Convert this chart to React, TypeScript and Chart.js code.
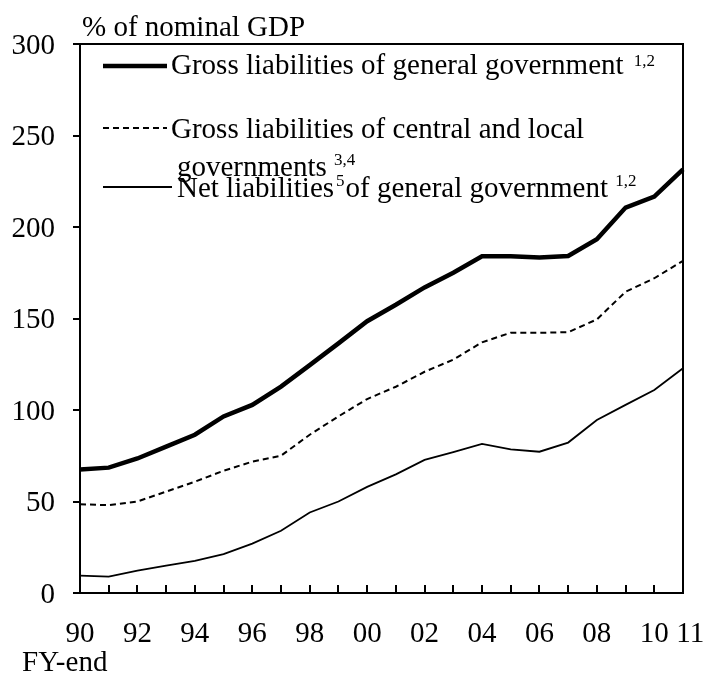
import React, { useEffect, useRef } from 'react';
import { Chart, registerables } from 'chart.js';

Chart.register(...registerables);

// ---- data ----
const YEARS = ['90', '91', '92', '93', '94', '95', '96', '97', '98', '99', '00', '01', '02', '03', '04', '05', '06', '07', '08', '09', '10', '11'];
const TICK_LABELS = ['90', '', '92', '', '94', '', '96', '', '98', '', '00', '', '02', '', '04', '', '06', '', '08', '', '10', '\u200211'];

const GROSS_GENERAL = [67.5, 68.5, 73.5, 80, 86.5, 96.5, 102.8, 112.8, 124.5, 136.4, 148.5, 157.5, 167, 175, 184, 184, 183.4, 184.2, 193.3, 210.6, 216.6, 231.5];
const GROSS_CENTRAL_LOCAL = [48.5, 48, 50, 55.4, 60.8, 66.8, 71.8, 75, 86.5, 96.5, 106, 112.7, 120.9, 127.5, 137, 142.2, 142.2, 142.5, 149.5, 164.6, 172, 181.5];
const NET_GENERAL = [9.5, 9, 12.2, 15, 17.5, 21.3, 27, 34, 44, 50, 58, 64.8, 72.7, 77, 81.5, 78.5, 77.2, 82.2, 94.5, 102.8, 110.9, 122.8];

const Y_MIN = 0;
const Y_MAX = 300;
const Y_STEP = 50;

const Y_TITLE = '% of nominal GDP';
const X_TITLE = 'FY-end';

const LEGEND_1 = ['Gross liabilities of general government', '1,2'];
const LEGEND_2 = ['Gross liabilities of central and local', 'governments', '3,4'];
const LEGEND_3 = ['Net liabilities', '5', 'of general government', '1,2'];

const FONT = "'Liberation Serif', 'Times New Roman', Times, serif";
const FS = 29;
const SUP = 17;

function seg(ctx: CanvasRenderingContext2D, x1: number, y1: number, x2: number, y2: number, w: number, dash: number[]) {
  ctx.save();
  ctx.lineWidth = w;
  ctx.setLineDash(dash);
  ctx.lineCap = 'butt';
  ctx.beginPath();
  ctx.moveTo(x1, y1);
  ctx.lineTo(x2, y2);
  ctx.stroke();
  ctx.restore();
}

function txt(ctx: CanvasRenderingContext2D, s: string, x: number, y: number, size: number) {
  ctx.font = `${size}px ${FONT}`;
  ctx.fillText(s, x, y);
  return ctx.measureText(s).width;
}

const decorPlugin = {
  id: 'decor',
  afterDraw(chart: any) {
    const ctx: CanvasRenderingContext2D = chart.ctx;
    const ca = chart.chartArea;
    const xs = chart.scales.x;
    ctx.save();
    ctx.strokeStyle = '#000';
    ctx.fillStyle = '#000';
    ctx.lineWidth = 2;
    ctx.setLineDash([]);
    ctx.strokeRect(ca.left, ca.top, ca.right - ca.left, ca.bottom - ca.top);
    for (let i = 1; i < YEARS.length - 1; i++) {
      const px = Math.round(xs.getPixelForValue(i));
      ctx.beginPath();
      ctx.moveTo(px, ca.bottom);
      ctx.lineTo(px, ca.bottom - 8);
      ctx.stroke();
    }

    ctx.textAlign = 'left';
    ctx.textBaseline = 'alphabetic';
    txt(ctx, Y_TITLE, ca.left + 2, ca.top - 8, FS);
    txt(ctx, X_TITLE, 22, ca.bottom + 78, FS);

    const L = ca.left;
    const T = ca.top;
    // entry 1
    seg(ctx, L + 23, T + 22, L + 87, T + 22, 4.5, []);
    let w = txt(ctx, LEGEND_1[0] + ' ', L + 91, T + 30, FS);
    txt(ctx, LEGEND_1[1], L + 91 + w + 3, T + 22, SUP);
    // entry 2
    seg(ctx, L + 23, T + 84, L + 87, T + 84, 2, [6, 4]);
    txt(ctx, LEGEND_2[0], L + 91, T + 94, FS);
    w = txt(ctx, LEGEND_2[1] + ' ', L + 97, T + 132, FS);
    txt(ctx, LEGEND_2[2], L + 97 + w, T + 121, SUP);
    // entry 3
    seg(ctx, L + 23, T + 143, L + 92, T + 143, 2, []);
    let x = L + 97;
    x += txt(ctx, LEGEND_3[0], x, T + 153, FS) + 2;
    x += txt(ctx, LEGEND_3[1], x, T + 142, SUP) + 1;
    x += txt(ctx, LEGEND_3[2] + ' ', x, T + 153, FS);
    txt(ctx, LEGEND_3[3], x, T + 142, SUP);
    ctx.restore();
  },
};

export default function App() {
  const ref = useRef<HTMLCanvasElement>(null);
  useEffect(() => {
    if (!ref.current) return;
    const chart = new Chart(ref.current, {
      type: 'line',
      data: {
        labels: YEARS,
        datasets: [
          { label: LEGEND_1[0], data: GROSS_GENERAL, borderColor: '#000', borderWidth: 4.5, pointRadius: 0, tension: 0, fill: false },
          { label: LEGEND_2[0], data: GROSS_CENTRAL_LOCAL, borderColor: '#000', borderWidth: 2, borderDash: [6, 4], pointRadius: 0, tension: 0, fill: false },
          { label: LEGEND_3[0], data: NET_GENERAL, borderColor: '#000', borderWidth: 1.8, pointRadius: 0, tension: 0, fill: false },
        ],
      },
      options: {
        responsive: false,
        animation: false,
        devicePixelRatio: 1,
        layout: { padding: { top: 44, right: 22, left: 0, bottom: 0 } },
        plugins: { legend: { display: false }, tooltip: { enabled: false } },
        scales: {
          x: {
            type: 'category',
            offset: false,
            grid: { display: false, drawTicks: false },
            border: { display: false },
            ticks: {
              autoSkip: false,
              maxRotation: 0,
              minRotation: 0,
              padding: 24,
              color: '#000',
              font: { family: FONT, size: FS },
              callback: (_v: any, i: number) => TICK_LABELS[i],
            },
            afterFit: (s: any) => { s.height = 80; s.paddingLeft = 0; s.paddingRight = 0; },
          },
          y: {
            min: Y_MIN,
            max: Y_MAX,
            grid: { display: true, drawOnChartArea: false, drawTicks: true, tickLength: 7, color: '#000', lineWidth: 2 },
            border: { display: false },
            ticks: {
              stepSize: Y_STEP,
              padding: 18,
              labelOffset: 2,
              color: '#000',
              font: { family: FONT, size: FS },
            },
            afterFit: (s: any) => { s.width = 80; s.paddingTop = 0; s.paddingBottom = 0; },
          },
        },
      },
      plugins: [decorPlugin],
    });
    return () => chart.destroy();
  }, []);
  return (
    <div style={{ position: 'fixed', left: 0, top: 0, width: 705, height: 673 }}>
      <canvas ref={ref} width={705} height={673} style={{ width: 705, height: 673 }} />
    </div>
  );
}
